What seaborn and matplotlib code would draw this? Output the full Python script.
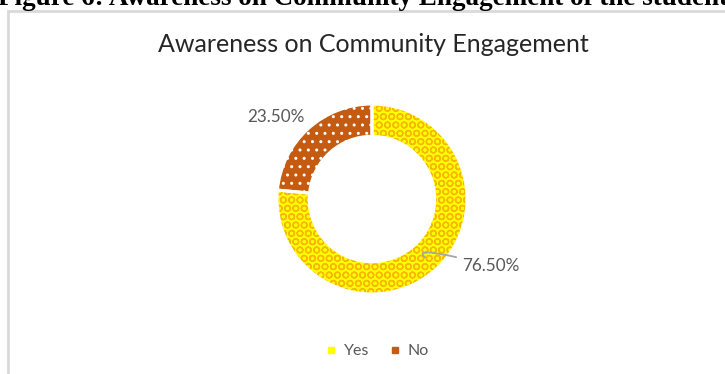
import matplotlib
matplotlib.use("Agg")
import matplotlib.pyplot as plt
from matplotlib.patches import Rectangle
from matplotlib.lines import Line2D
import numpy as np
import seaborn as sns

# Survey responses
categories = ["Yes", "No"]
shares = [76.5, 23.5]
value_labels = ["76.50%", "23.50%"]

face_colors = ["#FFFF00", "#C55A11"]
hatch_colors = ["#F9B800", "#FFFFFF"]
hatches = ["OO", ".."]

sns.set_theme(style="white")
plt.rcParams["font.family"] = ["Lato", "DejaVu Sans"]
plt.rcParams["hatch.linewidth"] = 1.0

W, H = 725, 374
fig = plt.figure(figsize=(W / 100, H / 100), dpi=100)
fig.patch.set_facecolor("white")

def fx(px):
    return px / W

def fy(py):
    return 1 - py / H

# Document caption above the chart frame
fig.text(fx(-2), fy(5), "Figure 6: Awareness on Community Engagement of the students",
         fontsize=19.5, fontweight="bold", family=["Liberation Serif", "DejaVu Serif"],
         color="black", ha="left", va="baseline")

# Chart frame
fig.patches.append(Rectangle((fx(7.5), fy(400)), fx(800), fy(10.5) - fy(400),
                             transform=fig.transFigure, fill=False,
                             edgecolor="#D9D9D9", linewidth=2, zorder=0))

fig.text(fx(373), fy(45), "Awareness on Community Engagement", fontsize=18,
         color="#262626", ha="center", va="center")

# Donut axes centred on the ring
cx, cy, R = 372, 199, 95
ax = fig.add_axes([fx(cx - R), fy(cy + R), fx(2 * R), fy(cy - R) - fy(cy + R)])

wedges, _ = ax.pie(shares, radius=1, startangle=90, counterclock=False,
                   colors=face_colors, wedgeprops=dict(width=0.34, linewidth=0))
for w, hc, ht in zip(wedges, hatch_colors, hatches):
    w.set_edgecolor(hc)
    w.set_hatch(ht)
    w.set_linewidth(0)
    w.set_clip_on(False)

# White separators between the slices
outline, _ = ax.pie(shares, radius=1, startangle=90, counterclock=False,
                    wedgeprops=dict(width=0.34, linewidth=2.2, edgecolor="white",
                                    facecolor="none"))
for w in outline:
    w.set_clip_on(False)

ax.set_xlim(-1, 1)
ax.set_ylim(-1, 1)
ax.set_aspect("equal")
ax.axis("off")

# Value labels
label_color = "#595959"
yes_w, no_w = wedges
mid_yes = np.deg2rad((yes_w.theta1 + yes_w.theta2) / 2)
start = (0.83 * np.cos(mid_yes), 0.83 * np.sin(mid_yes))
ax.annotate(value_labels[0], xy=start, xytext=(start[0] + 0.39, start[1] - 0.09),
            fontsize=12.3, color=label_color, ha="left", va="center",
            arrowprops=dict(arrowstyle="-", color="#A6A6A6", linewidth=1.3,
                            shrinkA=2, shrinkB=0,
                            connectionstyle="angle3,angleA=-15,angleB=-40"),
            annotation_clip=False)

ang_no = np.deg2rad(139.5)
ax.text(1.33 * np.cos(ang_no), 1.33 * np.sin(ang_no),
        value_labels[1], fontsize=12.3, color=label_color, ha="center", va="center",
        clip_on=False)

handles = [Line2D([], [], marker="s", linestyle="none", markersize=5,
                  markerfacecolor=c, markeredgecolor=c) for c in face_colors]
fig.legend(handles, categories, loc="center", bbox_to_anchor=(fx(377), fy(351)),
           ncol=2, frameon=False, fontsize=11.5, labelcolor=label_color,
           handlelength=0.8, handletextpad=0.4, columnspacing=1.2)

fig.savefig("out.png", dpi=100)
